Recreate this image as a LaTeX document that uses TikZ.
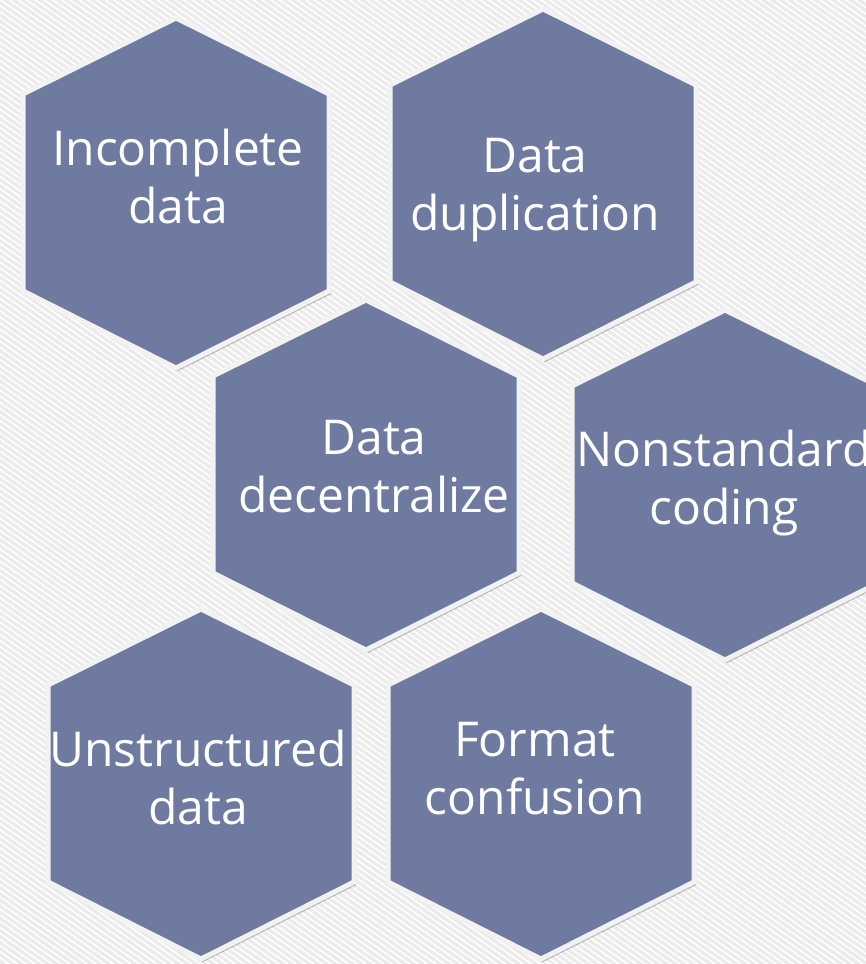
\documentclass[tikz,border=0pt]{standalone}
\usepackage{fontspec}
\setmainfont{Open Sans}
\usetikzlibrary{shadows,patterns.meta}

\definecolor{hexblue}{HTML}{6F7AA1}
\definecolor{hexrim}{HTML}{F2F2F2}
\definecolor{paper}{HTML}{EBEBEB}

\tikzset{
	hexcell/.style={fill=hexblue, draw=hexrim, line width=5, line join=miter,
		drop shadow={shadow xshift=2pt, shadow yshift=-3pt, opacity=0.25, fill=black}},
	hexlabel/.style={text=white, align=center, font=\fontsize{48}{58}\selectfont, inner sep=0}
}

% hexagon with pointed top, drawn round a centre given in pixels
\newcommand{\hexcellat}[2]{
	\draw[hexcell] (#1,#2) ++(0,-175) -- ++(153,76) -- ++(0,197) -- ++(-153,77)
		-- ++(-153,-77) -- ++(0,-197) -- cycle;
}

\begin{document}
\begin{tikzpicture}[x=1pt, y=-1pt]
	\clip (0,0) rectangle (866,964);
	\fill[paper] (0,0) rectangle (866,964);
	\fill[pattern={Lines[angle=-35, distance=5pt, line width=1.6pt]}, pattern color=white] (0,0) rectangle (866,964);
	% the cells, top row first
	\hexcellat{176}{193}
	\hexcellat{543}{184}
	\hexcellat{366}{475}
	\hexcellat{725}{485}
	\hexcellat{201}{784}
	\hexcellat{541}{784}
	\node(incomplete) [hexlabel] at (178, 176.75) {Incomplete\\data};
	\node(duplication) [hexlabel] at (535, 190.6) {Data\\duplication};
	\node(decentralize) [hexlabel] at (374, 466.9) {Data\\decentralize};
	\node(nonstandard) [hexlabel] at (724, 483.5) {Nonstandard\\coding};
	\node(unstructured) [hexlabel] at (198, 777.75) {Unstructured\\data};
	\node(format) [hexlabel] at (535, 768.9) {Format\\confusion};
\end{tikzpicture}
\end{document}
